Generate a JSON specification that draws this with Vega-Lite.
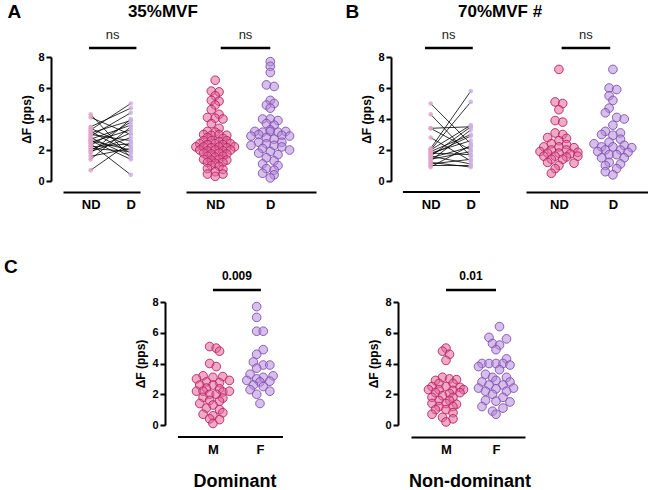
{
"$schema": "https://vega.github.io/schema/vega-lite/v6.json",
"background": "white",
"padding": {"left": 3, "top": 3, "right": 0, "bottom": 5},
"config": {
  "view": {"stroke": null},
  "font": "Liberation Sans",
  "axis": {"domainColor": "black", "domainWidth": 2, "tickColor": "black", "tickWidth": 2, "labelColor": "black", "labelFont": "Liberation Sans", "labelFontWeight": "bold", "titleFont": "Liberation Sans", "titleFontWeight": "bold", "titleColor": "black", "grid": false, "labelOverlap": false},
  "axisY": {"tickCount": 5}
},
"datasets": {
  "pairs": [
    {"s":"A","nd":4.3,"d":1.5},{"s":"A","nd":4.1,"d":3.0},{"s":"A","nd":3.5,"d":4.7},{"s":"A","nd":3.4,"d":2.2},{"s":"A","nd":3.3,"d":5.0},{"s":"A","nd":3.2,"d":1.8},{"s":"A","nd":3.1,"d":3.9},{"s":"A","nd":3.0,"d":2.6},{"s":"A","nd":2.9,"d":4.4},{"s":"A","nd":2.8,"d":1.6},{"s":"A","nd":2.7,"d":3.6},{"s":"A","nd":2.6,"d":2.0},{"s":"A","nd":2.5,"d":3.3},{"s":"A","nd":2.4,"d":0.4},{"s":"A","nd":2.3,"d":3.8},{"s":"A","nd":2.2,"d":2.4},{"s":"A","nd":2.1,"d":1.9},{"s":"A","nd":2.0,"d":3.1},{"s":"A","nd":1.9,"d":2.8},{"s":"A","nd":1.8,"d":4.0},{"s":"A","nd":1.6,"d":2.1},{"s":"A","nd":1.4,"d":3.5},{"s":"A","nd":0.7,"d":2.5},{"s":"A","nd":2.6,"d":1.4},
    {"s":"B","nd":5.0,"d":2.4},{"s":"B","nd":4.3,"d":1.6},{"s":"B","nd":3.4,"d":3.5},{"s":"B","nd":3.4,"d":2.0},{"s":"B","nd":2.8,"d":1.3},{"s":"B","nd":2.1,"d":5.8},{"s":"B","nd":2.0,"d":5.1},{"s":"B","nd":2.0,"d":3.6},{"s":"B","nd":1.9,"d":3.0},{"s":"B","nd":1.8,"d":2.6},{"s":"B","nd":1.7,"d":2.9},{"s":"B","nd":1.6,"d":1.1},{"s":"B","nd":1.5,"d":2.2},{"s":"B","nd":1.4,"d":1.9},{"s":"B","nd":1.3,"d":3.3},{"s":"B","nd":1.2,"d":0.9},{"s":"B","nd":1.0,"d":1.0},{"s":"B","nd":0.9,"d":2.3},{"s":"B","nd":1.1,"d":1.4},{"s":"B","nd":1.8,"d":1.7},{"s":"B","nd":1.6,"d":3.5}
  ],
  "sw": [
    {"s":"A","g":"ND","x":1.0,"y":6.5},{"s":"A","g":"ND","x":0.93,"y":5.8},{"s":"A","g":"ND","x":1.07,"y":5.75},{"s":"A","g":"ND","x":1.0,"y":5.5},{"s":"A","g":"ND","x":0.93,"y":5.2},{"s":"A","g":"ND","x":1.07,"y":5.15},{"s":"A","g":"ND","x":1.0,"y":4.9},{"s":"A","g":"ND","x":0.93,"y":4.6},{"s":"A","g":"ND","x":1.07,"y":4.3},{"s":"A","g":"ND","x":0.86,"y":4.1},{"s":"A","g":"ND","x":1.0,"y":4.05},{"s":"A","g":"ND","x":1.14,"y":4.0},{"s":"A","g":"ND","x":0.93,"y":3.7},{"s":"A","g":"ND","x":1.07,"y":3.4},{"s":"A","g":"ND","x":0.86,"y":3.2},{"s":"A","g":"ND","x":1.0,"y":3.15},{"s":"A","g":"ND","x":0.79,"y":3.0},{"s":"A","g":"ND","x":0.93,"y":2.95},{"s":"A","g":"ND","x":1.07,"y":3.0},{"s":"A","g":"ND","x":1.21,"y":2.95},{"s":"A","g":"ND","x":0.86,"y":2.8},{"s":"A","g":"ND","x":1.14,"y":2.75},{"s":"A","g":"ND","x":0.79,"y":2.6},{"s":"A","g":"ND","x":0.93,"y":2.6},{"s":"A","g":"ND","x":1.07,"y":2.55},{"s":"A","g":"ND","x":1.21,"y":2.6},{"s":"A","g":"ND","x":0.72,"y":2.4},{"s":"A","g":"ND","x":0.86,"y":2.35},{"s":"A","g":"ND","x":1.0,"y":2.4},{"s":"A","g":"ND","x":1.14,"y":2.35},{"s":"A","g":"ND","x":1.28,"y":2.4},{"s":"A","g":"ND","x":0.65,"y":2.2},{"s":"A","g":"ND","x":0.79,"y":2.2},{"s":"A","g":"ND","x":0.93,"y":2.15},{"s":"A","g":"ND","x":1.07,"y":2.2},{"s":"A","g":"ND","x":1.21,"y":2.15},{"s":"A","g":"ND","x":1.35,"y":2.2},{"s":"A","g":"ND","x":0.72,"y":2.0},{"s":"A","g":"ND","x":0.86,"y":1.95},{"s":"A","g":"ND","x":1.0,"y":2.0},{"s":"A","g":"ND","x":1.14,"y":1.95},{"s":"A","g":"ND","x":1.28,"y":2.0},{"s":"A","g":"ND","x":0.79,"y":1.8},{"s":"A","g":"ND","x":0.93,"y":1.75},{"s":"A","g":"ND","x":1.07,"y":1.8},{"s":"A","g":"ND","x":1.21,"y":1.75},{"s":"A","g":"ND","x":0.86,"y":1.6},{"s":"A","g":"ND","x":1.0,"y":1.55},{"s":"A","g":"ND","x":1.14,"y":1.6},{"s":"A","g":"ND","x":0.79,"y":1.4},{"s":"A","g":"ND","x":0.93,"y":1.35},{"s":"A","g":"ND","x":1.07,"y":1.4},{"s":"A","g":"ND","x":1.21,"y":1.35},{"s":"A","g":"ND","x":0.86,"y":1.2},{"s":"A","g":"ND","x":1.0,"y":1.15},{"s":"A","g":"ND","x":1.14,"y":1.2},{"s":"A","g":"ND","x":0.93,"y":1.0},{"s":"A","g":"ND","x":1.07,"y":0.95},{"s":"A","g":"ND","x":0.86,"y":0.8},{"s":"A","g":"ND","x":1.14,"y":0.75},{"s":"A","g":"ND","x":1.0,"y":0.6},{"s":"A","g":"ND","x":0.86,"y":0.45},{"s":"A","g":"ND","x":1.14,"y":0.45},{"s":"A","g":"ND","x":1.0,"y":0.3},
    {"s":"A","g":"D","x":2.0,"y":7.7},{"s":"A","g":"D","x":2.0,"y":7.4},{"s":"A","g":"D","x":2.0,"y":7.0},{"s":"A","g":"D","x":1.93,"y":6.2},{"s":"A","g":"D","x":2.07,"y":6.1},{"s":"A","g":"D","x":2.0,"y":5.2},{"s":"A","g":"D","x":2.07,"y":5.0},{"s":"A","g":"D","x":1.93,"y":4.9},{"s":"A","g":"D","x":2.0,"y":4.7},{"s":"A","g":"D","x":1.86,"y":4.0},{"s":"A","g":"D","x":2.0,"y":4.0},{"s":"A","g":"D","x":2.14,"y":3.9},{"s":"A","g":"D","x":1.93,"y":3.7},{"s":"A","g":"D","x":2.07,"y":3.6},{"s":"A","g":"D","x":2.0,"y":3.3},{"s":"A","g":"D","x":1.72,"y":3.2},{"s":"A","g":"D","x":1.86,"y":3.15},{"s":"A","g":"D","x":2.0,"y":3.2},{"s":"A","g":"D","x":2.14,"y":3.15},{"s":"A","g":"D","x":2.28,"y":3.2},{"s":"A","g":"D","x":1.79,"y":3.0},{"s":"A","g":"D","x":2.21,"y":2.95},{"s":"A","g":"D","x":1.65,"y":2.9},{"s":"A","g":"D","x":2.35,"y":2.9},{"s":"A","g":"D","x":1.93,"y":2.8},{"s":"A","g":"D","x":2.07,"y":2.7},{"s":"A","g":"D","x":1.79,"y":2.5},{"s":"A","g":"D","x":2.21,"y":2.5},{"s":"A","g":"D","x":1.93,"y":2.4},{"s":"A","g":"D","x":1.65,"y":2.3},{"s":"A","g":"D","x":2.07,"y":2.3},{"s":"A","g":"D","x":2.21,"y":2.2},{"s":"A","g":"D","x":1.86,"y":2.1},{"s":"A","g":"D","x":2.35,"y":2.0},{"s":"A","g":"D","x":2.0,"y":1.9},{"s":"A","g":"D","x":1.79,"y":1.8},{"s":"A","g":"D","x":2.14,"y":1.7},{"s":"A","g":"D","x":1.93,"y":1.5},{"s":"A","g":"D","x":2.07,"y":1.3},{"s":"A","g":"D","x":1.86,"y":1.1},{"s":"A","g":"D","x":2.14,"y":1.0},{"s":"A","g":"D","x":1.93,"y":0.8},{"s":"A","g":"D","x":2.07,"y":0.7},{"s":"A","g":"D","x":1.86,"y":0.5},{"s":"A","g":"D","x":2.07,"y":0.4},{"s":"A","g":"D","x":2.0,"y":0.2},
    {"s":"B","g":"ND","x":1.0,"y":7.2},{"s":"B","g":"ND","x":0.93,"y":5.1},{"s":"B","g":"ND","x":1.07,"y":5.0},{"s":"B","g":"ND","x":1.0,"y":4.6},{"s":"B","g":"ND","x":0.93,"y":3.9},{"s":"B","g":"ND","x":1.07,"y":3.8},{"s":"B","g":"ND","x":0.93,"y":3.1},{"s":"B","g":"ND","x":1.07,"y":3.0},{"s":"B","g":"ND","x":0.79,"y":2.8},{"s":"B","g":"ND","x":1.14,"y":2.75},{"s":"B","g":"ND","x":1.0,"y":2.6},{"s":"B","g":"ND","x":0.86,"y":2.4},{"s":"B","g":"ND","x":1.14,"y":2.35},{"s":"B","g":"ND","x":0.72,"y":2.2},{"s":"B","g":"ND","x":1.0,"y":2.2},{"s":"B","g":"ND","x":1.28,"y":2.15},{"s":"B","g":"ND","x":0.86,"y":2.0},{"s":"B","g":"ND","x":1.14,"y":2.0},{"s":"B","g":"ND","x":0.65,"y":1.9},{"s":"B","g":"ND","x":1.35,"y":1.85},{"s":"B","g":"ND","x":0.79,"y":1.8},{"s":"B","g":"ND","x":1.0,"y":1.8},{"s":"B","g":"ND","x":1.21,"y":1.75},{"s":"B","g":"ND","x":0.72,"y":1.6},{"s":"B","g":"ND","x":0.93,"y":1.6},{"s":"B","g":"ND","x":1.14,"y":1.55},{"s":"B","g":"ND","x":1.35,"y":1.6},{"s":"B","g":"ND","x":0.86,"y":1.4},{"s":"B","g":"ND","x":1.07,"y":1.4},{"s":"B","g":"ND","x":0.79,"y":1.2},{"s":"B","g":"ND","x":1.28,"y":1.15},{"s":"B","g":"ND","x":1.0,"y":1.0},{"s":"B","g":"ND","x":0.93,"y":0.8},{"s":"B","g":"ND","x":0.86,"y":0.5},
    {"s":"B","g":"D","x":2.0,"y":7.2},{"s":"B","g":"D","x":1.93,"y":6.0},{"s":"B","g":"D","x":2.07,"y":5.9},{"s":"B","g":"D","x":1.93,"y":5.5},{"s":"B","g":"D","x":2.0,"y":5.2},{"s":"B","g":"D","x":1.93,"y":4.7},{"s":"B","g":"D","x":1.86,"y":4.4},{"s":"B","g":"D","x":2.07,"y":4.1},{"s":"B","g":"D","x":2.21,"y":4.0},{"s":"B","g":"D","x":2.0,"y":3.6},{"s":"B","g":"D","x":1.86,"y":3.2},{"s":"B","g":"D","x":2.14,"y":3.1},{"s":"B","g":"D","x":1.79,"y":3.0},{"s":"B","g":"D","x":2.0,"y":2.95},{"s":"B","g":"D","x":2.14,"y":2.7},{"s":"B","g":"D","x":1.93,"y":2.5},{"s":"B","g":"D","x":1.65,"y":2.4},{"s":"B","g":"D","x":2.21,"y":2.3},{"s":"B","g":"D","x":1.79,"y":2.2},{"s":"B","g":"D","x":2.0,"y":2.2},{"s":"B","g":"D","x":2.35,"y":2.15},{"s":"B","g":"D","x":1.86,"y":2.0},{"s":"B","g":"D","x":2.14,"y":2.0},{"s":"B","g":"D","x":1.72,"y":1.9},{"s":"B","g":"D","x":2.28,"y":1.85},{"s":"B","g":"D","x":1.93,"y":1.7},{"s":"B","g":"D","x":2.07,"y":1.7},{"s":"B","g":"D","x":1.79,"y":1.5},{"s":"B","g":"D","x":2.21,"y":1.5},{"s":"B","g":"D","x":1.93,"y":1.2},{"s":"B","g":"D","x":2.14,"y":1.1},{"s":"B","g":"D","x":1.86,"y":1.0},{"s":"B","g":"D","x":2.07,"y":0.8},{"s":"B","g":"D","x":1.86,"y":0.6},{"s":"B","g":"D","x":2.0,"y":0.4},
    {"s":"CD","g":"M","x":0.93,"y":5.1},{"s":"CD","g":"M","x":1.07,"y":5.0},{"s":"CD","g":"M","x":1.14,"y":4.8},{"s":"CD","g":"M","x":0.93,"y":4.0},{"s":"CD","g":"M","x":1.07,"y":3.8},{"s":"CD","g":"M","x":0.79,"y":3.2},{"s":"CD","g":"M","x":1.0,"y":3.1},{"s":"CD","g":"M","x":1.21,"y":3.15},{"s":"CD","g":"M","x":0.65,"y":3.0},{"s":"CD","g":"M","x":1.35,"y":2.9},{"s":"CD","g":"M","x":0.86,"y":2.8},{"s":"CD","g":"M","x":1.14,"y":2.75},{"s":"CD","g":"M","x":0.72,"y":2.6},{"s":"CD","g":"M","x":1.0,"y":2.6},{"s":"CD","g":"M","x":0.86,"y":2.4},{"s":"CD","g":"M","x":1.14,"y":2.35},{"s":"CD","g":"M","x":0.65,"y":2.2},{"s":"CD","g":"M","x":0.79,"y":2.2},{"s":"CD","g":"M","x":1.21,"y":2.15},{"s":"CD","g":"M","x":1.35,"y":2.2},{"s":"CD","g":"M","x":0.93,"y":2.0},{"s":"CD","g":"M","x":1.07,"y":2.0},{"s":"CD","g":"M","x":0.79,"y":1.8},{"s":"CD","g":"M","x":1.21,"y":1.75},{"s":"CD","g":"M","x":0.93,"y":1.6},{"s":"CD","g":"M","x":1.14,"y":1.55},{"s":"CD","g":"M","x":0.72,"y":1.4},{"s":"CD","g":"M","x":1.0,"y":1.3},{"s":"CD","g":"M","x":0.86,"y":1.1},{"s":"CD","g":"M","x":1.14,"y":1.0},{"s":"CD","g":"M","x":1.21,"y":0.8},{"s":"CD","g":"M","x":0.79,"y":0.7},{"s":"CD","g":"M","x":1.0,"y":0.6},{"s":"CD","g":"M","x":0.93,"y":0.4},{"s":"CD","g":"M","x":1.14,"y":0.35},{"s":"CD","g":"M","x":1.0,"y":0.1},
    {"s":"CD","g":"F","x":1.93,"y":7.7},{"s":"CD","g":"F","x":1.93,"y":7.0},{"s":"CD","g":"F","x":1.93,"y":6.1},{"s":"CD","g":"F","x":2.07,"y":6.1},{"s":"CD","g":"F","x":2.07,"y":4.9},{"s":"CD","g":"F","x":1.93,"y":4.6},{"s":"CD","g":"F","x":1.86,"y":4.1},{"s":"CD","g":"F","x":2.07,"y":3.9},{"s":"CD","g":"F","x":2.21,"y":3.9},{"s":"CD","g":"F","x":1.93,"y":3.7},{"s":"CD","g":"F","x":1.79,"y":3.3},{"s":"CD","g":"F","x":2.28,"y":3.2},{"s":"CD","g":"F","x":2.07,"y":3.1},{"s":"CD","g":"F","x":1.93,"y":3.0},{"s":"CD","g":"F","x":1.72,"y":2.9},{"s":"CD","g":"F","x":2.21,"y":2.85},{"s":"CD","g":"F","x":2.0,"y":2.8},{"s":"CD","g":"F","x":1.86,"y":2.6},{"s":"CD","g":"F","x":2.07,"y":2.5},{"s":"CD","g":"F","x":1.79,"y":2.3},{"s":"CD","g":"F","x":2.21,"y":2.2},{"s":"CD","g":"F","x":1.93,"y":2.0},{"s":"CD","g":"F","x":2.0,"y":1.4},
    {"s":"CN","g":"M","x":1.0,"y":5.0},{"s":"CN","g":"M","x":0.93,"y":4.8},{"s":"CN","g":"M","x":1.07,"y":4.6},{"s":"CN","g":"M","x":1.0,"y":4.2},{"s":"CN","g":"M","x":0.93,"y":3.1},{"s":"CN","g":"M","x":1.07,"y":3.0},{"s":"CN","g":"M","x":0.79,"y":2.9},{"s":"CN","g":"M","x":1.21,"y":2.95},{"s":"CN","g":"M","x":0.86,"y":2.7},{"s":"CN","g":"M","x":1.14,"y":2.7},{"s":"CN","g":"M","x":0.72,"y":2.5},{"s":"CN","g":"M","x":1.0,"y":2.5},{"s":"CN","g":"M","x":1.28,"y":2.45},{"s":"CN","g":"M","x":0.65,"y":2.3},{"s":"CN","g":"M","x":0.86,"y":2.3},{"s":"CN","g":"M","x":1.14,"y":2.25},{"s":"CN","g":"M","x":1.35,"y":2.3},{"s":"CN","g":"M","x":0.79,"y":2.1},{"s":"CN","g":"M","x":1.07,"y":2.05},{"s":"CN","g":"M","x":1.28,"y":2.1},{"s":"CN","g":"M","x":0.93,"y":1.9},{"s":"CN","g":"M","x":0.72,"y":1.8},{"s":"CN","g":"M","x":1.14,"y":1.8},{"s":"CN","g":"M","x":0.86,"y":1.6},{"s":"CN","g":"M","x":1.07,"y":1.6},{"s":"CN","g":"M","x":0.72,"y":1.4},{"s":"CN","g":"M","x":1.0,"y":1.4},{"s":"CN","g":"M","x":1.21,"y":1.35},{"s":"CN","g":"M","x":0.86,"y":1.2},{"s":"CN","g":"M","x":1.14,"y":1.2},{"s":"CN","g":"M","x":0.79,"y":1.0},{"s":"CN","g":"M","x":1.0,"y":1.0},{"s":"CN","g":"M","x":1.14,"y":0.8},{"s":"CN","g":"M","x":0.72,"y":0.7},{"s":"CN","g":"M","x":0.93,"y":0.5},{"s":"CN","g":"M","x":1.14,"y":0.4},{"s":"CN","g":"M","x":1.0,"y":0.2},
    {"s":"CN","g":"F","x":2.07,"y":6.4},{"s":"CN","g":"F","x":1.86,"y":5.7},{"s":"CN","g":"F","x":2.21,"y":5.6},{"s":"CN","g":"F","x":1.93,"y":5.3},{"s":"CN","g":"F","x":2.07,"y":5.2},{"s":"CN","g":"F","x":2.0,"y":4.9},{"s":"CN","g":"F","x":2.21,"y":4.3},{"s":"CN","g":"F","x":1.72,"y":4.0},{"s":"CN","g":"F","x":1.86,"y":4.0},{"s":"CN","g":"F","x":2.0,"y":4.0},{"s":"CN","g":"F","x":2.14,"y":4.0},{"s":"CN","g":"F","x":2.28,"y":3.9},{"s":"CN","g":"F","x":1.65,"y":3.8},{"s":"CN","g":"F","x":2.07,"y":3.6},{"s":"CN","g":"F","x":1.79,"y":3.3},{"s":"CN","g":"F","x":1.93,"y":3.1},{"s":"CN","g":"F","x":2.21,"y":3.1},{"s":"CN","g":"F","x":2.0,"y":2.9},{"s":"CN","g":"F","x":1.72,"y":2.8},{"s":"CN","g":"F","x":2.28,"y":2.8},{"s":"CN","g":"F","x":1.86,"y":2.6},{"s":"CN","g":"F","x":2.14,"y":2.6},{"s":"CN","g":"F","x":1.65,"y":2.4},{"s":"CN","g":"F","x":2.0,"y":2.35},{"s":"CN","g":"F","x":2.35,"y":2.4},{"s":"CN","g":"F","x":1.79,"y":2.2},{"s":"CN","g":"F","x":2.21,"y":2.2},{"s":"CN","g":"F","x":1.93,"y":2.0},{"s":"CN","g":"F","x":2.14,"y":1.8},{"s":"CN","g":"F","x":1.79,"y":1.6},{"s":"CN","g":"F","x":2.0,"y":1.55},{"s":"CN","g":"F","x":2.28,"y":1.5},{"s":"CN","g":"F","x":1.72,"y":1.2},{"s":"CN","g":"F","x":2.14,"y":1.1},{"s":"CN","g":"F","x":1.93,"y":0.9},{"s":"CN","g":"F","x":2.0,"y":0.7}
  ],
  "bars": [
    {"p":"Ap","x":0.96,"x2":2.14,"y":8.58},{"p":"As","x":1.1,"x2":2.0,"y":8.58},
    {"p":"Bp","x":0.86,"x2":2.05,"y":8.58},{"p":"Bs","x":1.05,"x2":1.95,"y":8.58},
    {"p":"CD","x":1.0,"x2":2.02,"y":8.78},{"p":"CN","x":1.0,"x2":2.0,"y":8.78}
  ],
  "baseline": [{"p":"Bp","x":0.31,"x2":2.23,"y":-0.71},{"p":"CD","x":0.255,"x2":2.49,"y":-0.78}],
  "notes": [
    {"p":"Ap","k":"ns","t":"ns","x":1.55,"y":9.4},{"p":"As","k":"ns","t":"ns","x":1.55,"y":9.4},
    {"p":"Bp","k":"ns","t":"ns","x":1.45,"y":9.4},{"p":"Bs","k":"ns","t":"ns","x":1.5,"y":9.4},
    {"p":"CD","k":"pv","t":"0.009","x":1.51,"y":9.7},{"p":"CN","k":"pv","t":"0.01","x":1.5,"y":9.7},
    {"p":"Ap","k":"head","t":"35%MVF","x":2.8,"y":10.9},{"p":"Bp","k":"head","t":"70%MVF #","x":2.73,"y":10.9},
    {"p":"Ap","k":"letter","t":"A","x":-0.9,"y":10.9},{"p":"Bp","k":"letter","t":"B","x":-0.95,"y":10.9},
    {"p":"CD","k":"letter","t":"C","x":-3.3,"y":10.3},
    {"p":"CD","k":"head","t":"Dominant","x":1.47,"y":-3.7},{"p":"CN","k":"head","t":"Non-dominant","x":1.48,"y":-3.7}
  ]
},
"spacing": 46,
"vconcat": [
  {
    "bounds": "flush",
    "spacing": 46,
    "hconcat": [
      {
        "width": 77, "height": 124,
        "layer": [
          {"data": {"name": "pairs"}, "transform": [{"filter": "datum.s=='A'"}],
           "mark": {"type": "rule", "color": "black", "strokeWidth": 0.8},
           "encoding": {"x": {"datum": 1, "type": "quantitative", "scale": {"domain": [0.31, 2.23], "nice": false}, "axis": {"values": [1, 2], "labelExpr": "datum.value==1?'ND':'D'", "ticks": false, "offset": 11, "labelFontSize": 13, "labelPadding": 6, "title": null}},
             "x2": {"datum": 2},
             "y": {"field": "nd", "type": "quantitative", "scale": {"domain": [0, 8], "nice": false}, "axis": {"values": [0, 2, 4, 6, 8], "offset": 12, "tickSize": 5, "labelFontSize": 11, "title": "ΔF (pps)", "titleFontSize": 12}},
             "y2": {"field": "d"}}},
          {"data": {"name": "pairs"}, "transform": [{"filter": "datum.s=='A'"}],
           "mark": {"type": "point", "filled": true, "color": "#e2a3c4", "opacity": 0.8, "size": 22},
           "encoding": {"x": {"datum": 1, "type": "quantitative"}, "y": {"field": "nd", "type": "quantitative"}}},
          {"data": {"name": "pairs"}, "transform": [{"filter": "datum.s=='A'"}],
           "mark": {"type": "point", "filled": true, "color": "#c9b0e0", "opacity": 0.8, "size": 22},
           "encoding": {"x": {"datum": 2, "type": "quantitative"}, "y": {"field": "d", "type": "quantitative"}}},
          {"data": {"name": "bars"}, "transform": [{"filter": "datum.p=='Ap'"}],
           "mark": {"type": "rule", "color": "black", "strokeWidth": 2.5},
           "encoding": {"x": {"field": "x", "type": "quantitative"}, "x2": {"field": "x2"}, "y": {"field": "y", "type": "quantitative"}}},
          {"data": {"name": "notes"}, "transform": [{"filter": "datum.p=='Ap' && datum.k=='ns'"}],
           "mark": {"type": "text", "fontSize": 13, "color": "#222"},
           "encoding": {"x": {"field": "x", "type": "quantitative"}, "y": {"field": "y", "type": "quantitative"}, "text": {"field": "t"}}},
          {"data": {"name": "notes"}, "transform": [{"filter": "datum.p=='Ap' && datum.k=='head'"}],
           "mark": {"type": "text", "fontSize": 17, "fontWeight": "bold", "color": "black"},
           "encoding": {"x": {"field": "x", "type": "quantitative"}, "y": {"field": "y", "type": "quantitative"}, "text": {"field": "t"}}},
          {"data": {"name": "notes"}, "transform": [{"filter": "datum.p=='Ap' && datum.k=='letter'"}],
           "mark": {"type": "text", "fontSize": 19, "fontWeight": "bold", "color": "black"},
           "encoding": {"x": {"field": "x", "type": "quantitative"}, "y": {"field": "y", "type": "quantitative"}, "text": {"field": "t"}}}
        ]
      },
      {
        "width": 130, "height": 124,
        "layer": [
          {"data": {"name": "sw"}, "transform": [{"filter": "datum.s=='A'"}],
           "mark": {"type": "circle", "size": 75, "fillOpacity": 0.55, "strokeWidth": 1, "strokeOpacity": 0.9},
           "encoding": {"x": {"field": "x", "type": "quantitative", "scale": {"domain": [0.47, 2.83], "nice": false}, "axis": {"values": [1, 2], "labelExpr": "datum.value==1?'ND':'D'", "ticks": false, "offset": 11, "labelFontSize": 13, "labelPadding": 6, "title": null}},
             "y": {"field": "y", "type": "quantitative", "scale": {"domain": [0, 8], "nice": false}, "axis": null},
             "fill": {"field": "g", "type": "nominal", "scale": {"domain": ["ND", "D", "M", "F"], "range": ["#e2659a", "#b58bd8", "#e2659a", "#b58bd8"]}, "legend": null},
             "stroke": {"field": "g", "type": "nominal", "scale": {"domain": ["ND", "D", "M", "F"], "range": ["#b8245e", "#8150b0", "#b8245e", "#8150b0"]}, "legend": null}}},
          {"data": {"name": "bars"}, "transform": [{"filter": "datum.p=='As'"}],
           "mark": {"type": "rule", "color": "black", "strokeWidth": 2.5},
           "encoding": {"x": {"field": "x", "type": "quantitative"}, "x2": {"field": "x2"}, "y": {"field": "y", "type": "quantitative"}}},
          {"data": {"name": "notes"}, "transform": [{"filter": "datum.p=='As'"}],
           "mark": {"type": "text", "fontSize": 13, "color": "#222"},
           "encoding": {"x": {"field": "x", "type": "quantitative"}, "y": {"field": "y", "type": "quantitative"}, "text": {"field": "t"}}}
        ]
      },
      {
        "width": 118, "height": 124,
        "layer": [
          {"data": {"name": "pairs"}, "transform": [{"filter": "datum.s=='B'"}],
           "mark": {"type": "rule", "color": "black", "strokeWidth": 0.8},
           "encoding": {"x": {"datum": 1, "type": "quantitative", "scale": {"domain": [-0.71, 2.23], "nice": false}, "axis": {"values": [1, 2], "labelExpr": "datum.value==1?'ND':'D'", "ticks": false, "domain": false, "offset": 11, "labelFontSize": 13, "labelPadding": 6, "title": null}},
             "x2": {"datum": 2},
             "y": {"field": "nd", "type": "quantitative", "scale": {"domain": [0, 8], "nice": false}, "axis": {"values": [0, 2, 4, 6, 8], "offset": -29, "tickSize": 5, "labelFontSize": 11, "title": "ΔF (pps)", "titleFontSize": 12}},
             "y2": {"field": "d"}}},
          {"data": {"name": "baseline"}, "transform": [{"filter": "datum.p=='Bp'"}],
           "mark": {"type": "rule", "color": "black", "strokeWidth": 2},
           "encoding": {"x": {"field": "x", "type": "quantitative"}, "x2": {"field": "x2"}, "y": {"field": "y", "type": "quantitative"}}},
          {"data": {"name": "pairs"}, "transform": [{"filter": "datum.s=='B'"}],
           "mark": {"type": "point", "filled": true, "color": "#e2a3c4", "opacity": 0.8, "size": 22},
           "encoding": {"x": {"datum": 1, "type": "quantitative"}, "y": {"field": "nd", "type": "quantitative"}}},
          {"data": {"name": "pairs"}, "transform": [{"filter": "datum.s=='B'"}],
           "mark": {"type": "point", "filled": true, "color": "#c9b0e0", "opacity": 0.8, "size": 22},
           "encoding": {"x": {"datum": 2, "type": "quantitative"}, "y": {"field": "d", "type": "quantitative"}}},
          {"data": {"name": "bars"}, "transform": [{"filter": "datum.p=='Bp'"}],
           "mark": {"type": "rule", "color": "black", "strokeWidth": 2.5},
           "encoding": {"x": {"field": "x", "type": "quantitative"}, "x2": {"field": "x2"}, "y": {"field": "y", "type": "quantitative"}}},
          {"data": {"name": "notes"}, "transform": [{"filter": "datum.p=='Bp' && datum.k=='ns'"}],
           "mark": {"type": "text", "fontSize": 13, "color": "#222"},
           "encoding": {"x": {"field": "x", "type": "quantitative"}, "y": {"field": "y", "type": "quantitative"}, "text": {"field": "t"}}},
          {"data": {"name": "notes"}, "transform": [{"filter": "datum.p=='Bp' && datum.k=='head'"}],
           "mark": {"type": "text", "fontSize": 17, "fontWeight": "bold", "color": "black"},
           "encoding": {"x": {"field": "x", "type": "quantitative"}, "y": {"field": "y", "type": "quantitative"}, "text": {"field": "t"}}},
          {"data": {"name": "notes"}, "transform": [{"filter": "datum.p=='Bp' && datum.k=='letter'"}],
           "mark": {"type": "text", "fontSize": 19, "fontWeight": "bold", "color": "black"},
           "encoding": {"x": {"field": "x", "type": "quantitative"}, "y": {"field": "y", "type": "quantitative"}, "text": {"field": "t"}}}
        ]
      },
      {
        "width": 122, "height": 124,
        "layer": [
          {"data": {"name": "sw"}, "transform": [{"filter": "datum.s=='B'"}],
           "mark": {"type": "circle", "size": 75, "fillOpacity": 0.55, "strokeWidth": 1, "strokeOpacity": 0.9},
           "encoding": {"x": {"field": "x", "type": "quantitative", "scale": {"domain": [0.39, 2.65], "nice": false}, "axis": {"values": [1, 2], "labelExpr": "datum.value==1?'ND':'D'", "ticks": false, "offset": 11, "labelFontSize": 13, "labelPadding": 6, "title": null}},
             "y": {"field": "y", "type": "quantitative", "scale": {"domain": [0, 8], "nice": false}, "axis": null},
             "fill": {"field": "g", "type": "nominal", "scale": {"domain": ["ND", "D", "M", "F"], "range": ["#e2659a", "#b58bd8", "#e2659a", "#b58bd8"]}, "legend": null},
             "stroke": {"field": "g", "type": "nominal", "scale": {"domain": ["ND", "D", "M", "F"], "range": ["#b8245e", "#8150b0", "#b8245e", "#8150b0"]}, "legend": null}}},
          {"data": {"name": "bars"}, "transform": [{"filter": "datum.p=='Bs'"}],
           "mark": {"type": "rule", "color": "black", "strokeWidth": 2.5},
           "encoding": {"x": {"field": "x", "type": "quantitative"}, "x2": {"field": "x2"}, "y": {"field": "y", "type": "quantitative"}}},
          {"data": {"name": "notes"}, "transform": [{"filter": "datum.p=='Bs'"}],
           "mark": {"type": "text", "fontSize": 13, "color": "#222"},
           "encoding": {"x": {"field": "x", "type": "quantitative"}, "y": {"field": "y", "type": "quantitative"}, "text": {"field": "t"}}}
        ]
      }
    ]
  },
  {
    "bounds": "flush",
    "spacing": 128,
    "hconcat": [
      {
        "width": 220, "height": 123,
        "layer": [
          {"data": {"name": "sw"}, "transform": [{"filter": "datum.s=='CD'"}],
           "mark": {"type": "circle", "size": 75, "fillOpacity": 0.55, "strokeWidth": 1, "strokeOpacity": 0.9},
           "encoding": {"x": {"field": "x", "type": "quantitative", "scale": {"domain": [-2.19, 2.49], "nice": false}, "axis": {"values": [1, 2], "labelExpr": "datum.value==1?'M':'F'", "ticks": false, "domain": false, "offset": 12, "labelFontSize": 13, "labelPadding": 6, "title": null}},
             "y": {"field": "y", "type": "quantitative", "scale": {"domain": [0, 8], "nice": false}, "axis": {"values": [0, 2, 4, 6, 8], "offset": -102, "tickSize": 5, "labelFontSize": 11, "title": "ΔF (pps)", "titleFontSize": 12}},
             "fill": {"field": "g", "type": "nominal", "scale": {"domain": ["ND", "D", "M", "F"], "range": ["#e2659a", "#b58bd8", "#e2659a", "#b58bd8"]}, "legend": null},
             "stroke": {"field": "g", "type": "nominal", "scale": {"domain": ["ND", "D", "M", "F"], "range": ["#b8245e", "#8150b0", "#b8245e", "#8150b0"]}, "legend": null}}},
          {"data": {"name": "baseline"}, "transform": [{"filter": "datum.p=='CD'"}],
           "mark": {"type": "rule", "color": "black", "strokeWidth": 2},
           "encoding": {"x": {"field": "x", "type": "quantitative"}, "x2": {"field": "x2"}, "y": {"field": "y", "type": "quantitative"}}},
          {"data": {"name": "bars"}, "transform": [{"filter": "datum.p=='CD'"}],
           "mark": {"type": "rule", "color": "black", "strokeWidth": 2.5},
           "encoding": {"x": {"field": "x", "type": "quantitative"}, "x2": {"field": "x2"}, "y": {"field": "y", "type": "quantitative"}}},
          {"data": {"name": "notes"}, "transform": [{"filter": "datum.p=='CD' && datum.k=='pv'"}],
           "mark": {"type": "text", "fontSize": 12, "fontWeight": "bold", "color": "black"},
           "encoding": {"x": {"field": "x", "type": "quantitative"}, "y": {"field": "y", "type": "quantitative"}, "text": {"field": "t"}}},
          {"data": {"name": "notes"}, "transform": [{"filter": "datum.p=='CD' && datum.k=='head'"}],
           "mark": {"type": "text", "fontSize": 18, "fontWeight": "bold", "color": "black"},
           "encoding": {"x": {"field": "x", "type": "quantitative"}, "y": {"field": "y", "type": "quantitative"}, "text": {"field": "t"}}},
          {"data": {"name": "notes"}, "transform": [{"filter": "datum.p=='CD' && datum.k=='letter'"}],
           "mark": {"type": "text", "fontSize": 19, "fontWeight": "bold", "color": "black"},
           "encoding": {"x": {"field": "x", "type": "quantitative"}, "y": {"field": "y", "type": "quantitative"}, "text": {"field": "t"}}}
        ]
      },
      {
        "width": 114, "height": 123,
        "layer": [
          {"data": {"name": "sw"}, "transform": [{"filter": "datum.s=='CN'"}],
           "mark": {"type": "circle", "size": 75, "fillOpacity": 0.55, "strokeWidth": 1, "strokeOpacity": 0.9},
           "encoding": {"x": {"field": "x", "type": "quantitative", "scale": {"domain": [0.3, 2.58], "nice": false}, "axis": {"values": [1, 2], "labelExpr": "datum.value==1?'M':'F'", "ticks": false, "offset": 12, "labelFontSize": 13, "labelPadding": 6, "title": null}},
             "y": {"field": "y", "type": "quantitative", "scale": {"domain": [0, 8], "nice": false}, "axis": {"values": [0, 2, 4, 6, 8], "offset": 13, "tickSize": 5, "labelFontSize": 11, "title": "ΔF (pps)", "titleFontSize": 12}},
             "fill": {"field": "g", "type": "nominal", "scale": {"domain": ["ND", "D", "M", "F"], "range": ["#e2659a", "#b58bd8", "#e2659a", "#b58bd8"]}, "legend": null},
             "stroke": {"field": "g", "type": "nominal", "scale": {"domain": ["ND", "D", "M", "F"], "range": ["#b8245e", "#8150b0", "#b8245e", "#8150b0"]}, "legend": null}}},
          {"data": {"name": "bars"}, "transform": [{"filter": "datum.p=='CN'"}],
           "mark": {"type": "rule", "color": "black", "strokeWidth": 2.5},
           "encoding": {"x": {"field": "x", "type": "quantitative"}, "x2": {"field": "x2"}, "y": {"field": "y", "type": "quantitative"}}},
          {"data": {"name": "notes"}, "transform": [{"filter": "datum.p=='CN' && datum.k=='pv'"}],
           "mark": {"type": "text", "fontSize": 12, "fontWeight": "bold", "color": "black"},
           "encoding": {"x": {"field": "x", "type": "quantitative"}, "y": {"field": "y", "type": "quantitative"}, "text": {"field": "t"}}},
          {"data": {"name": "notes"}, "transform": [{"filter": "datum.p=='CN' && datum.k=='head'"}],
           "mark": {"type": "text", "fontSize": 18, "fontWeight": "bold", "color": "black"},
           "encoding": {"x": {"field": "x", "type": "quantitative"}, "y": {"field": "y", "type": "quantitative"}, "text": {"field": "t"}}}
        ]
      }
    ]
  }
]
}
